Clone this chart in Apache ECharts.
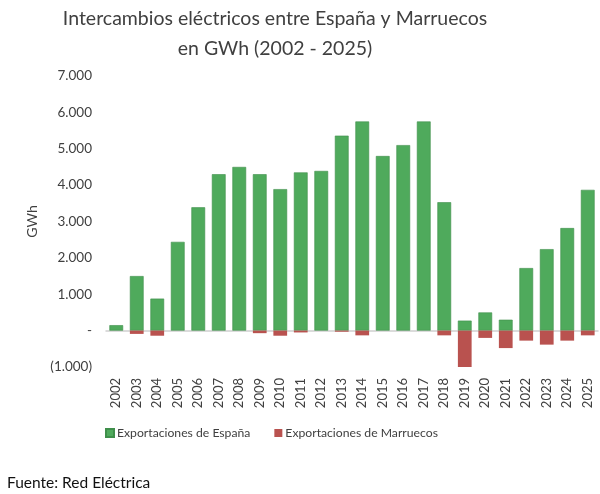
<!DOCTYPE html>
<html>
<head>
<meta charset="utf-8">
<script src="https://cdn.jsdelivr.net/npm/echarts@6/dist/echarts.min.js"></script>
<style>
html,body{margin:0;padding:0;background:#fff;}
#chart{width:600px;height:494px;}
</style>
</head>
<body>
<div id="chart"></div>
<script>
const years = ['2002','2003','2004','2005','2006','2007','2008','2009','2010','2011','2012','2013','2014','2015','2016','2017','2018','2019','2020','2021','2022','2023','2024','2025'];
const exportsSpain = [150,1500,880,2440,3390,4300,4500,4300,3890,4350,4390,5360,5750,4800,5100,5750,3530,275,500,300,1720,2240,2820,3870];
const exportsMorocco = [0,-90,-140,0,0,0,0,-70,-140,-50,0,-30,-130,0,0,0,-130,-1010,-200,-480,-275,-385,-275,-130];
const yTicks = { min: -1000, max: 7000, interval: 1000 };

function fmt(v){
  if (v === 0) return '-';
  const s = Math.abs(v).toString().replace(/\B(?=(\d{3})+(?!\d))/g, '.');
  return v < 0 ? '(' + s + ')' : s;
}

const FONT = 'Lato';
const chart = echarts.init(document.getElementById('chart'));
chart.setOption({
  backgroundColor: '#fff',
  animation: false,
  textStyle: { fontFamily: FONT },
  title: [{
    text: 'Intercambios eléctricos entre España y Marruecos\nen GWh (2002 - 2025)',
    left: 270, top: -1, textAlign: 'center',
    textStyle: { fontFamily: FONT, fontSize: 19.5, fontWeight: 'normal', color: '#404040', lineHeight: 30 }
  }, {
    text: 'Fuente: Red Eléctrica',
    left: 2, top: 467,
    textStyle: { fontFamily: FONT, fontSize: 15.5, fontWeight: 'normal', color: '#111', lineHeight: 22 }
  }],
  legend: {
    top: 427, left: 105, padding: 0,
    itemWidth: 8, itemHeight: 8, itemGap: 24,
    icon: 'rect',
    textStyle: { fontSize: 12.2, color: '#404040', fontFamily: FONT, padding: [0, 0, 0, -2] },
    data: ['Exportaciones de España', 'Exportaciones de Marruecos']
  },
  grid: { left: 106, right: 2, top: 76, bottom: 127, containLabel: false },
  xAxis: {
    type: 'category', data: years,
    axisLine: { onZero: true, lineStyle: { color: '#d0d0d0', width: 1.5 } },
    axisTick: { show: false },
    axisLabel: { rotate: 90, fontSize: 13, color: '#404040', margin: 11, interval: 0, fontFamily: FONT }
  },
  yAxis: {
    type: 'value', min: yTicks.min, max: yTicks.max, interval: yTicks.interval,
    name: 'GWh', nameLocation: 'middle', nameGap: 66, nameRotate: 90,
    nameTextStyle: { fontSize: 14, color: '#404040', fontFamily: FONT },
    splitLine: { show: false },
    axisLine: { show: false }, axisTick: { show: false },
    axisLabel: { formatter: fmt, fontSize: 13.5, color: '#404040', margin: 14, fontFamily: FONT }
  },
  series: [{
    name: 'Exportaciones de España', type: 'bar',
    data: exportsSpain, barCategoryGap: '33%', barGap: '-100%',
    itemStyle: { color: '#4faa5c', borderColor: '#3f8f4b', borderWidth: 0.6 }
  }, {
    name: 'Exportaciones de Marruecos', type: 'bar',
    data: exportsMorocco, barCategoryGap: '33%', barGap: '-100%',
    itemStyle: { color: '#b9524f', borderWidth: 0 }
  }]
});
</script>
</body>
</html>
